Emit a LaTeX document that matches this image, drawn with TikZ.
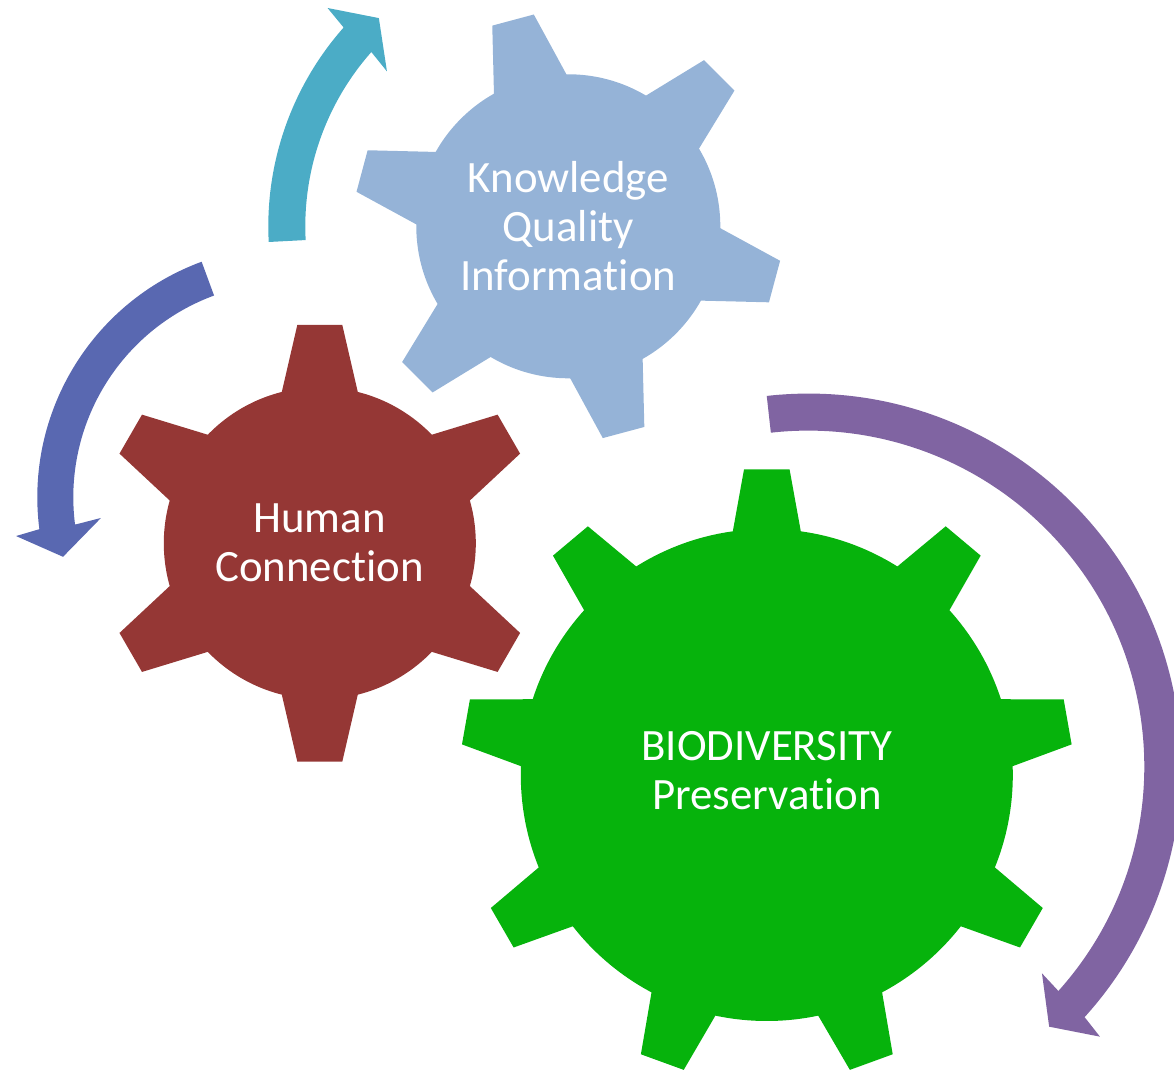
\documentclass[tikz,border=0pt]{standalone}
\usepackage{fontspec}
\setmainfont[RawFeature={-liga}]{Carlito}
\definecolor{biogreen}{RGB}{6,179,12}
\definecolor{humanred}{RGB}{149,55,53}
\definecolor{knowblue}{RGB}{149,179,215}
\definecolor{tealarrow}{RGB}{75,172,198}
\definecolor{bluearrow}{RGB}{89,104,177}
\definecolor{purplearrow}{RGB}{128,100,162}
\tikzset{gearlabel/.style={text=white,align=center,inner sep=0pt,font=\fontsize{45}{49}\selectfont}}
% #1 colour, #2 centre, #3 teeth, #4 first tooth, #5 tip radius, #6 body radius, #7 tip half width, #8 foot half width
\newcommand{\gearfill}[8]{%
  \fill[#1] (#2) circle[radius=#6bp];
  \pgfmathsetmacro{\gearstep}{360/#3}
  \pgfmathsetmacro{\gearfoot}{#6*sqrt(1-(#8/#6)*(#8/#6))}
  \pgfmathsetmacro{\gearroot}{\gearfoot-30}
  \foreach \k in {1,...,#3}{%
    \fill[#1,shift={(#2)},rotate={#4+(\k-1)*\gearstep}] (\gearroot bp,-#8bp) -- (\gearfoot bp,-#8bp) -- (#5bp,-#7bp) -- (#5bp,#7bp) -- (\gearfoot bp,#8bp) -- (\gearroot bp,#8bp) -- cycle;
  }%
}
\begin{document}
\begin{tikzpicture}[line join=bevel,]
\useasboundingbox (0bp,0bp) rectangle (1174bp,1071bp);
\clip (0bp,0bp) rectangle (1174bp,1071bp);
%%
\coordinate (knowc) at (568.3bp,844.7bp);
\coordinate (humanc) at (319.8bp,527.7bp);
\coordinate (bioc) at (766.8bp,296bp);
\coordinate (bluec) at (288.3bp,573.7bp);
\coordinate (purplec) at (808.3bp,304.4bp);
%% gears
\gearfill{knowblue}{knowc}{6}{105}{213.5}{152}{21.5}{37.5}
\gearfill{humanred}{humanc}{6}{90}{218.3}{156}{22.5}{38}
\gearfill{biogreen}{bioc}{9}{90}{305.5}{246}{22.8}{34}
%% arrows
\fill[tealarrow,shift={(knowc)}] (183:300bp) arc[start angle=183,end angle=138.5,radius=300bp] -- (137.8:325bp) -- (132.3:281.5bp) -- (139.5:238.5bp) -- (138.5:263bp) arc[start angle=138.5,end angle=183,radius=263bp] -- cycle;
\fill[bluearrow,shift={(bluec)}] (110.2:251bp) arc[start angle=110.2,end angle=187.3,radius=251bp] -- (188.1:275bp) -- (194.8:233bp) -- (186.3:188.5bp) -- (187.3:215bp) arc[start angle=187.3,end angle=110.2,radius=215bp] -- cycle;
\fill[purplearrow,shift={(purplec)}] (96.4:373bp) arc[start angle=96.4,end angle=-42.2,radius=373bp] -- (-42.8:397.5bp) -- (-47.2:354.5bp) -- (-41.5:312bp) -- (-41.9:336bp) arc[start angle=-41.9,end angle=96.4,radius=336bp] -- cycle;
%% labels
\node (knowlabel) at (568.3bp,845bp) [gearlabel] {Knowledge\\Quality\\Information};
\node (humanlabel) at (319.5bp,528.3bp) [gearlabel] {Human\\Connection};
\node (biolabel) at (766.8bp,300.6bp) [gearlabel] {BIODIVERSITY\\Preservation};
%
\end{tikzpicture}
\end{document}
